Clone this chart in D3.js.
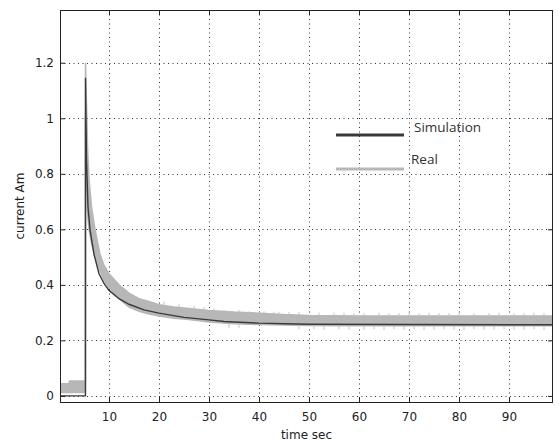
<!DOCTYPE html>
<html>
<head>
<meta charset="utf-8">
<script src="https://cdn.jsdelivr.net/npm/d3@7/dist/d3.min.js"></script>
<style>
  html, body { margin: 0; padding: 0; background: #fff; }
  svg { display: block; }
</style>
</head>
<body>
<script>
// ---- data ----
const xTicks = [10, 20, 30, 40, 50, 60, 70, 80, 90];
const yTicks = [0, 0.2, 0.4, 0.6, 0.8, 1.0, 1.2];
const yTickLabels = ["0", "0.2", "0.4", "0.6", "0.8", "1", "1.2"];

// Simulation (dark line)
const simT = [0.2, 5.29, 5.3, 5.5, 5.8, 6.2, 7.0, 8.0, 9.0, 10, 12, 14, 17, 20, 25, 30, 33, 35, 40, 45, 50, 70, 98.8];
const simV = [0, 0, 1.146, 0.85, 0.68, 0.60, 0.51, 0.44, 0.405, 0.38, 0.35, 0.33, 0.31, 0.298, 0.283, 0.274, 0.268, 0.266, 0.262, 0.26, 0.258, 0.257, 0.256];

// Real (noisy grey band: lower and upper edge)
const realT  = [0.2, 2.0, 2.1, 5.29, 5.3, 5.5, 5.7, 6.0, 6.5, 7.2, 8.2, 9.0, 10, 11, 12, 14, 16, 18, 20, 23, 26, 30, 35, 40, 45, 50, 60, 70, 80, 90, 98.8];
const realLo = [0.012, 0.012, 0.012, 0.012, 1.0, 0.80, 0.66, 0.60, 0.55, 0.50, 0.45, 0.415, 0.39, 0.37, 0.35, 0.32, 0.305, 0.295, 0.288, 0.28, 0.275, 0.266, 0.26, 0.257, 0.255, 0.254, 0.253, 0.253, 0.253, 0.253, 0.253];
const realHi = [0.044, 0.044, 0.054, 0.054, 1.20, 1.05, 0.90, 0.78, 0.68, 0.60, 0.51, 0.47, 0.44, 0.42, 0.40, 0.37, 0.35, 0.34, 0.328, 0.32, 0.315, 0.308, 0.302, 0.298, 0.293, 0.29, 0.288, 0.288, 0.288, 0.288, 0.288];

// Real: noise spikes above / below the band
const spikeUpT = [21, 24, 27, 29, 31, 33, 36, 38, 41, 43, 44, 46, 48, 52, 55, 57, 59, 61, 64, 66, 68, 70, 72, 74, 76, 78, 80, 83, 86, 88, 91, 93, 95, 97];
const spikeUpV = [0.34, 0.33, 0.325, 0.32, 0.315, 0.31, 0.31, 0.305, 0.305, 0.303, 0.303, 0.302, 0.302, 0.30, 0.30, 0.30, 0.298, 0.298, 0.30, 0.298, 0.298, 0.30, 0.298, 0.30, 0.298, 0.298, 0.30, 0.298, 0.298, 0.30, 0.298, 0.298, 0.30, 0.298];
const spikeDnT = [34, 36, 48, 51, 53, 56, 58, 61, 63, 65, 67, 69, 71, 73, 75, 77, 79, 81, 83, 85, 87, 89, 91, 93, 95, 97];
const spikeDnV = [0.245, 0.245, 0.24, 0.24, 0.238, 0.24, 0.238, 0.238, 0.24, 0.238, 0.24, 0.238, 0.24, 0.238, 0.238, 0.24, 0.238, 0.238, 0.24, 0.238, 0.238, 0.24, 0.238, 0.238, 0.24, 0.238];

const legendItems = ["Simulation", "Real"];

// ---- layout ----
const W = 559, H = 442;
const L = 60, R = 553, T = 10, B = 402;
const simColor = "#3a3a3a", realColor = "#b7b7b7";

const svg = d3.select("body").append("svg").attr("width", W).attr("height", H);

const x = d3.scaleLinear().domain([0.2, 98.8]).range([L, R]);
const y = d3.scaleLinear().domain([-0.022, 1.39]).range([B, T]);

// grid
const grid = svg.append("g").attr("stroke", "#333").attr("stroke-width", 1).attr("stroke-dasharray", "1,3.5");
grid.selectAll("line.gx").data(xTicks).join("line")
  .attr("x1", d => Math.round(x(d)) + 0.5).attr("x2", d => Math.round(x(d)) + 0.5)
  .attr("y1", T).attr("y2", B);
grid.selectAll("line.gy").data(yTicks).join("line")
  .attr("y1", d => Math.round(y(d)) + 0.5).attr("y2", d => Math.round(y(d)) + 0.5)
  .attr("x1", L).attr("x2", R);

// Real band
const real = realT.map((t, i) => ({t, lo: realLo[i], hi: realHi[i]}));
const plot = svg.append("g");
plot.append("path").datum(real)
  .attr("fill", realColor)
  .attr("d", d3.area().x(d => x(d.t)).y0(d => y(d.lo)).y1(d => y(d.hi)));
plot.append("path").datum(real).attr("fill", "none").attr("stroke", realColor).attr("stroke-width", 1.5)
  .attr("d", d3.line().x(d => x(d.t)).y(d => y(d.hi)));
plot.append("path").datum(real).attr("fill", "none").attr("stroke", realColor).attr("stroke-width", 1.5)
  .attr("d", d3.line().x(d => x(d.t)).y(d => y(d.lo)));

// spikes
const hiAt = d3.scaleLinear().domain(realT).range(realHi);
const loAt = d3.scaleLinear().domain(realT).range(realLo);
plot.selectAll("line.su").data(spikeUpT.map((t, i) => ({t, v: spikeUpV[i]}))).join("line")
  .attr("stroke", "#c4c4c4").attr("stroke-width", 1)
  .attr("x1", d => x(d.t)).attr("x2", d => x(d.t))
  .attr("y1", d => y(hiAt(d.t))).attr("y2", d => y(d.v));
plot.selectAll("line.sd").data(spikeDnT.map((t, i) => ({t, v: spikeDnV[i]}))).join("line")
  .attr("stroke", "#c4c4c4").attr("stroke-width", 1)
  .attr("x1", d => x(d.t)).attr("x2", d => x(d.t))
  .attr("y1", d => y(loAt(d.t))).attr("y2", d => y(d.v));

// Simulation line
plot.append("path").datum(simT.map((t, i) => ({t, v: simV[i]})))
  .attr("fill", "none").attr("stroke", simColor).attr("stroke-width", 1.4)
  .attr("d", d3.line().x(d => x(d.t)).y(d => y(d.v)));

// axes (MATLAB style: ticks inside, on all four sides)
const fontFam = "'DejaVu Sans', sans-serif";
const ax = svg.append("g");
ax.append("g").attr("transform", `translate(0,${B})`)
  .call(d3.axisBottom(x).tickValues(xTicks).tickSizeInner(-5).tickSizeOuter(0).tickPadding(10))
  .call(g => g.select(".domain").remove());
ax.append("g").attr("transform", `translate(0,${T})`)
  .call(d3.axisTop(x).tickValues(xTicks).tickSizeInner(-5).tickSizeOuter(0).tickFormat(""))
  .call(g => g.select(".domain").remove());
ax.append("g").attr("transform", `translate(${L},0)`)
  .call(d3.axisLeft(y).tickValues(yTicks).tickSizeInner(-5).tickSizeOuter(0).tickPadding(6)
    .tickFormat((d, i) => yTickLabels[i]))
  .call(g => g.select(".domain").remove());
ax.append("g").attr("transform", `translate(${R},0)`)
  .call(d3.axisRight(y).tickValues(yTicks).tickSizeInner(-5).tickSizeOuter(0).tickFormat(""))
  .call(g => g.select(".domain").remove());
ax.selectAll(".tick line").attr("stroke", "#222");
ax.selectAll(".tick text").attr("fill", "#222").style("font-family", fontFam).style("font-size", "12px");

// box
svg.append("rect").attr("x", L + 0.5).attr("y", T + 0.5).attr("width", R - L - 1).attr("height", B - T)
  .attr("fill", "none").attr("stroke", "#222").attr("stroke-width", 1);

// axis labels
svg.append("text").attr("x", (L + R) / 2).attr("y", 439).attr("text-anchor", "middle")
  .style("font-family", fontFam).style("font-size", "12px").attr("fill", "#222").text("time sec");
svg.append("text").attr("transform", `translate(24,${(T + B) / 2}) rotate(-90)`).attr("text-anchor", "middle")
  .style("font-family", fontFam).style("font-size", "12px").attr("fill", "#222").text("current Am");

// legend
const lg = svg.append("g");
const legY = [135, 169];
const legTextY = [132, 164];
const legColors = [simColor, realColor];
lg.selectAll("line").data(legendItems).join("line")
  .attr("x1", 336).attr("x2", 404)
  .attr("y1", (d, i) => legY[i]).attr("y2", (d, i) => legY[i])
  .attr("stroke", (d, i) => legColors[i]).attr("stroke-width", 3);
lg.selectAll("text").data(legendItems).join("text")
  .attr("x", (d, i) => i === 0 ? 414 : 411)
  .attr("y", (d, i) => legTextY[i])
  .style("font-family", "'Open Sans', sans-serif").style("font-size", "13.5px").attr("fill", "#333")
  .text(d => d);
</script>
</body>
</html>
